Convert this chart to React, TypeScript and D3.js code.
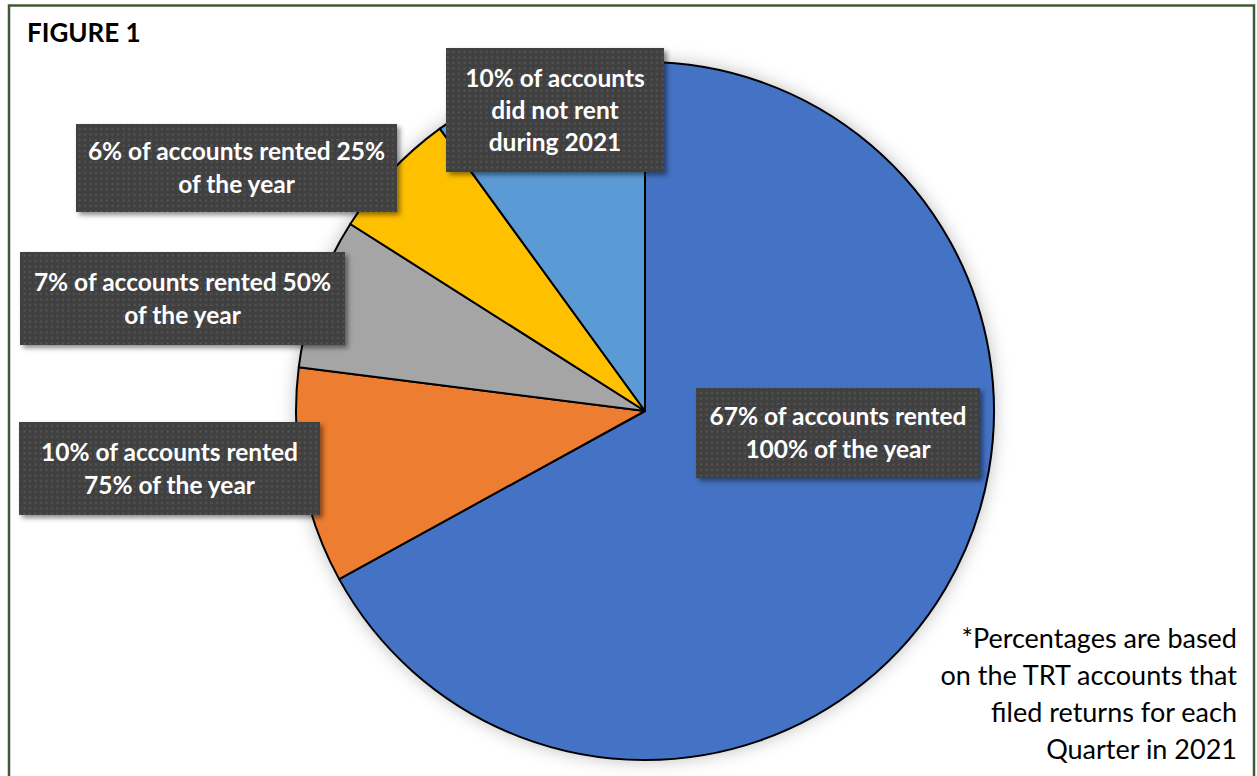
import * as d3 from "d3";
import React from "react";

// ── Data ──────────────────────────────────────────────────────────────────────
const categories = [
  "Rented 100% of the year",
  "Rented 75% of the year",
  "Rented 50% of the year",
  "Rented 25% of the year",
  "Did not rent",
];
const shares = [67, 10, 7, 6, 10];
const sliceColors = ["#4472C4", "#ED7D31", "#A5A5A5", "#FFC000", "#5B9BD5"];

const labelLines: string[][] = [
  ["67% of accounts rented", "100% of the year"],
  ["10% of accounts rented", "75% of the year"],
  ["7% of accounts rented 50%", "of the year"],
  ["6% of accounts rented 25%", "of the year"],
  ["10% of accounts", "did not rent", "during 2021"],
];

const footnote = [
  "*Percentages are based",
  "on the TRT accounts that",
  "filed returns for each",
  "Quarter in 2021",
];

// ── Layout (label boxes are hand placed, like the original) ──────────────────
const W = 1257;
const H = 776;
const CX = 645;
const CY = 411;
const R = 349;

const labelBoxes = [
  { x: 696, y: 388, w: 284, h: 90 },
  { x: 19, y: 422, w: 301, h: 93 },
  { x: 20, y: 252, w: 325, h: 93 },
  { x: 76, y: 124, w: 321, h: 88 },
  { x: 446, y: 48, w: 218, h: 124 },
];

const FONT = "Lato, 'Open Sans', sans-serif";

export default function App() {
  const pie = d3
    .pie<number>()
    .sort(null)
    .value((d) => d)
    .startAngle(0)
    .endAngle(2 * Math.PI);
  const arcs = pie(shares);
  const arc = d3.arc<d3.PieArcDatum<number>>().innerRadius(0).outerRadius(R);

  return (
    <svg
      width={W}
      height={H}
      viewBox={`0 0 ${W} ${H}`}
      style={{ position: "absolute", left: 0, top: 0, background: "#fff" }}
    >
      <defs>
        <pattern id="dots" width={5.5} height={5.5} patternUnits="userSpaceOnUse">
          <rect width={5.5} height={5.5} fill="#404040" />
          <rect x={1.5} y={1.5} width={2} height={2} fill="#575757" />
        </pattern>
        <filter id="pieShadow" x="-20%" y="-20%" width="140%" height="140%">
          <feDropShadow dx={0} dy={0} stdDeviation={9} floodColor="#000" floodOpacity={0.28} />
        </filter>
        <filter id="boxShadow" x="-10%" y="-20%" width="125%" height="150%">
          <feDropShadow dx={3} dy={3} stdDeviation={2.5} floodColor="#000" floodOpacity={0.45} />
        </filter>
      </defs>

      {/* Frame */}
      <rect x={9} y={5.5} width={1245} height={820} fill="#fff" stroke="#3e5a36" strokeWidth={2.5} />

      <text x={27} y={42} fontFamily={FONT} fontWeight={700} fontSize={26} fill="#000">
        FIGURE 1
      </text>

      {/* Pie */}
      <g transform={`translate(${CX},${CY})`}>
        <circle r={R} fill="#fff" filter="url(#pieShadow)" />
        {arcs.map((a, i) => (
          <path
            key={categories[i]}
            d={arc(a) ?? ""}
            fill={sliceColors[i]}
            stroke="#000"
            strokeWidth={2}
            strokeLinejoin="round"
          />
        ))}
      </g>

      {/* Data labels */}
      {labelBoxes.map((b, i) => {
        const lines = labelLines[i];
        const lh = lines.length > 2 ? 32 : 33;
        const mid = b.y + b.h / 2;
        const first = mid - ((lines.length - 1) * lh) / 2;
        return (
          <g key={i}>
            <rect x={b.x} y={b.y} width={b.w} height={b.h} fill="url(#dots)" filter="url(#boxShadow)" />
            {lines.map((t, j) => (
              <text
                key={j}
                x={b.x + b.w / 2}
                y={first + j * lh}
                dy="0.36em"
                textAnchor="middle"
                fontFamily={FONT}
                fontWeight={700}
                fontSize={24.5}
                fill="#fff"
              >
                {t}
              </text>
            ))}
          </g>
        );
      })}

      {/* Footnote */}
      {footnote.map((t, i) => (
        <text
          key={i}
          x={1237}
          y={648 + i * 37}
          textAnchor="end"
          fontFamily={FONT}
          fontSize={27}
          fill="#000"
        >
          {t}
        </text>
      ))}
    </svg>
  );
}
